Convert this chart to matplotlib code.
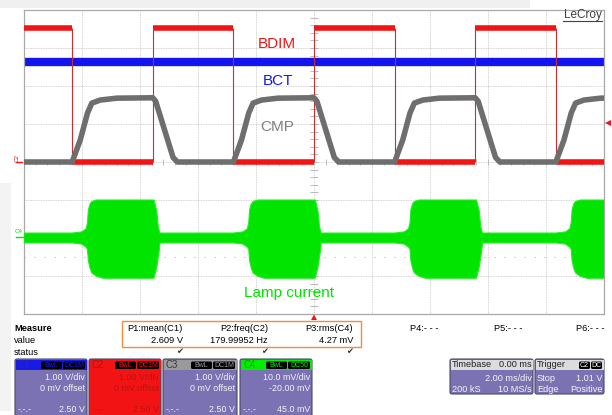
import numpy as np
import matplotlib.pyplot as plt
from matplotlib.patches import FancyBboxPatch, Rectangle, Polygon

plt.rcParams['font.family'] = ['Liberation Sans', 'DejaVu Sans']

# time in ms (2 ms/div, trigger at 0), vertical in divisions
bdim_edges = [-10, -8.34, -5.56, -2.78, 0.0, 2.78, 5.56, 8.34, 10]
bdim_level = [3.52, 0.0, 3.52, 0.0, 3.52, 0.0, 3.52, 0.0]
bdim_fall = [-8.34, -2.78, 2.78, 8.34]
bdim_rise = [-5.56, 0.0, 5.56, 11.12]

bct_level = 2.64

# CMP shape read around each BDIM edge
cmp_rise_dt = [0.0, 0.28, 0.53, 0.68, 0.97, 1.54]
cmp_rise_v = [0.0, 0.58, 1.29, 1.55, 1.63, 1.68]
cmp_fall_dt = [0.0, 0.10, 0.70, 0.85]
cmp_fall_v = [1.69, 1.60, 0.12, 0.0]

# lamp current envelope (divisions), baseline around -2 div
lamp_base = (-1.87, -2.13)
burst_on_dt = [0.0, 0.33, 0.48, 0.53, 0.56, 0.62, 0.68, 0.85, 1.07]
burst_on_top = [-1.87, -1.84, -1.76, -1.60, -1.26, -1.10, -1.04, -1.00, -1.00]
burst_on_bot = [-2.13, -2.16, -2.24, -2.30, -2.60, -2.80, -2.92, -3.01, -3.06]
burst_off_dt = [0.0, 0.045, 0.14, 0.19, 0.23, 0.25]
burst_off_top = [-1.00, -1.00, -1.30, -1.70, -1.82, -1.87]
burst_off_bot = [-3.06, -3.05, -2.76, -2.50, -2.30, -2.13]

RED = '#f21414'
BLUE = '#1414f0'
GRAY = '#6e6e6e'
GREEN = '#00e400'
PURPLE = '#7a72b2'

fig = plt.figure(figsize=(6.12, 4.15), dpi=100)


def pixel_axes(z):
    a = fig.add_axes([0, 0, 1, 1], zorder=z)
    a.set_xlim(0, 612)
    a.set_ylim(415, 0)
    a.axis('off')
    a.patch.set_alpha(0)
    return a


# background layer in pixel coordinates
bg = pixel_axes(0)
bg.add_patch(Rectangle((0, 0), 530, 8, color='#f0f0f0', lw=0))
bg.add_patch(Rectangle((0, 183), 11, 228, color='#f3f3f3', lw=0))

# scope grid
ax = fig.add_axes([24 / 612, (415 - 314) / 415, 580 / 612, 304 / 415], zorder=1)
ax.set_xlim(-10, 10)
ax.set_ylim(-4, 4)
ax.set_xticks([])
ax.set_yticks([])
for s in ax.spines.values():
    s.set_color('#a8a8a8')
    s.set_linewidth(0.9)
for x in range(-8, 10, 2):
    ax.axvline(x, color='#c4c4c4', lw=0.6, ls=(0, (1, 1)), zorder=0)
for y in range(-3, 4):
    ax.axhline(y, color='#c4c4c4', lw=0.6, ls=(0, (1, 1)), zorder=0)
# centre ticks
ax.vlines(np.arange(-10, 10.01, 0.4), -0.07, 0.07, color='#b0b0b0', lw=0.6, zorder=0)
ax.hlines(np.arange(-4, 4.01, 0.2), -0.14, 0.14, color='#b0b0b0', lw=0.6, zorder=0)
ax.axhline(-2.5, color='#b8b8b8', lw=0.8, ls=(0, (1, 8)), zorder=0)

# BCT
ax.axhline(bct_level, color=BLUE, lw=6, zorder=2)

# BDIM
ax.hlines(bdim_level, bdim_edges[:-1], bdim_edges[1:], color=RED, lw=4, zorder=3)
ax.vlines(bdim_edges[1:-1], 0, 3.52, color='#c83030', lw=0.8, zorder=3)

# CMP
cmp_t, cmp_v = [-10.0], [0.0]
for f, r in zip(bdim_fall, bdim_rise):
    cmp_t += [f + d for d in cmp_rise_dt]
    cmp_v += cmp_rise_v
    cmp_t += [r + d for d in cmp_fall_dt]
    cmp_v += cmp_fall_v
ax.plot(cmp_t, cmp_v, color=GRAY, lw=4, solid_joinstyle='round', zorder=4)

# Lamp current
lt, ltop, lbot = [-10.0], [lamp_base[0]], [lamp_base[1]]
for f, r in zip(bdim_fall, bdim_rise):
    lt += [f + d for d in burst_on_dt]
    ltop += burst_on_top
    lbot += burst_on_bot
    lt += [r + d for d in burst_off_dt]
    ltop += burst_off_top
    lbot += burst_off_bot
ax.fill_between(lt, lbot, ltop, color=GREEN, lw=0.8, edgecolor='#20f020', zorder=4)

# overlay for labels drawn above the traces
ov = pixel_axes(2)
ov.text(277, 44, 'BDIM', color=RED, fontsize=11, ha='center', va='center')
ov.text(278, 81, 'BCT', color=BLUE, fontsize=11, ha='center', va='center')
ov.text(277, 127, 'CMP', color='#808080', fontsize=11, ha='center', va='center')
ov.text(289, 293, 'Lamp current', color=GREEN, fontsize=11, ha='center', va='center')

# LeCroy logo
ov.text(583, 15, 'LeCroy', color='#404040', fontsize=8.5, ha='center', va='center')
ov.plot([563, 602], [21, 21], color='#404040', lw=0.8)

# channel markers / trigger markers
ov.text(17, 158, 'C2', color=RED, fontsize=4.5, rotation=90, ha='center', va='center')
ov.plot([16, 22], [162.5, 162.5], color=RED, lw=1)
ov.text(19, 231, 'C4', color=GREEN, fontsize=4.5, ha='center', va='center')
ov.plot([16, 23], [237, 237], color=GREEN, lw=1)
ov.add_patch(Polygon([[311, 320], [317, 320], [314, 314.5]], color=RED, lw=0))
ov.add_patch(Polygon([[611, 120], [611, 126], [605, 123]], color=RED, lw=0))

# measurement panel
fs = 6.7
ov.text(14, 328, 'Measure', fontsize=fs, fontweight='bold', va='center')
ov.text(14, 340, 'value', fontsize=fs, va='center')
ov.text(14, 352, 'status', fontsize=fs, va='center')
ov.add_patch(Rectangle((122, 321), 239, 26, fill=False, ec='#f28c3c', lw=1))
params = ['P1:mean(C1)', 'P2:freq(C2)', 'P3:rms(C4)', 'P4:- - -', 'P5:- - -', 'P6:- - -']
values = ['2.609 V', '179.99952 Hz', '4.27 mV', '', '', '']
param_right = [183, 268, 353, 438, 522, 604]
for p, v, xr in zip(params, values, param_right):
    ov.text(xr, 328, p, fontsize=fs, ha='right', va='center')
    if v:
        ov.text(xr, 340, v, fontsize=fs, ha='right', va='center')
        ov.text(xr - 3, 352, '\u2714', fontsize=6, ha='center', va='center', color='#303030')

# channel boxes
chan_names = ['C1', 'C2', 'C3', 'C4']
chan_x = [(15, 87), (89, 161), (163, 237), (240, 312)]
chan_head = ['#1a1ae6', RED, '#9a9a9a', '#00ee00']
chan_name_col = ['#2828a8', '#a01818', '#3a3a3a', '#00a000']
chan_body = [PURPLE, RED, PURPLE, PURPLE]
chan_text_col = ['#f4f4f4', '#c01010', '#f4f4f4', '#f4f4f4']
chan_coupling = ['DC1M', 'DC1M', 'DC1M', 'DC50']
chan_scale = ['1.00 V/div', '1.00 V/div', '1.00 V/div', '10.0 mV/div']
chan_offset = ['0 mV offset', '0 mV offset', '0 mV offset', '-20.00 mV']
chan_level = ['2.50 V', '2.50 V', '2.50 V', '45.0 mV']

for i, (x0, x1) in enumerate(chan_x):
    ov.add_patch(FancyBboxPatch((x0, 359), x1 - x0, 70, boxstyle='round,pad=0,rounding_size=2',
                                fc=chan_body[i], ec='#4a4a6a', lw=0.8))
    ov.add_patch(Rectangle((x0 + 0.5, 359.5), x1 - x0 - 1, 10.5, color=chan_head[i], lw=0))
    ov.text(x0 + 3, 364.5, chan_names[i], fontsize=7, color=chan_name_col[i], va='center')
    ov.add_patch(FancyBboxPatch((x1 - 24, 361.5), 22, 7.5, boxstyle='round,pad=0,rounding_size=1.5',
                                fc='black', ec='none'))
    ov.add_patch(FancyBboxPatch((x1 - 46, 361.5), 21, 7.5, boxstyle='round,pad=0,rounding_size=1.5',
                                fc='black', ec='none'))
    ov.text(x1 - 13, 365.3, chan_coupling[i], fontsize=5, color=chan_head[i], ha='center', va='center')
    ov.text(x1 - 35.5, 365.3, 'BwL', fontsize=5, color=chan_head[i], ha='center', va='center')
    tc = chan_text_col[i]
    ov.text(x1 - 2, 377, chan_scale[i], fontsize=6.4, color=tc, ha='right', va='center')
    ov.text(x1 - 2, 388, chan_offset[i], fontsize=6.4, color=tc, ha='right', va='center')
    ov.text(x0 + 3, 409, '-.-.-', fontsize=6.4, color=tc, va='center')
    ov.text(x1 - 2, 409, chan_level[i], fontsize=6.4, color=tc, ha='right', va='center')

# timebase / trigger boxes
for (x0, x1) in [(450, 533), (535, 604)]:
    ov.add_patch(FancyBboxPatch((x0, 359), x1 - x0, 35, boxstyle='round,pad=0,rounding_size=2',
                                fc=PURPLE, ec='#4a4a6a', lw=0.8))
    ov.add_patch(Rectangle((x0 + 0.5, 359.5), x1 - x0 - 1, 10.5, color='#dcdcdc', lw=0))
ov.text(452, 364.5, 'Timebase', fontsize=6.6, color='#202020', va='center')
ov.text(532, 364.5, '0.00 ms', fontsize=6.6, color='#202020', ha='right', va='center')
ov.text(532, 378, '2.00 ms/div', fontsize=6.6, color='#f4f4f4', ha='right', va='center')
ov.text(452, 389, '200 kS', fontsize=6.6, color='#f4f4f4', va='center')
ov.text(532, 389, '10 MS/s', fontsize=6.6, color='#f4f4f4', ha='right', va='center')
ov.text(537, 364.5, 'Trigger', fontsize=6.6, color='#202020', va='center')
for bx, lab in [(579, 'C2'), (591, 'DC')]:
    ov.add_patch(FancyBboxPatch((bx, 361.5), 11, 7.5, boxstyle='round,pad=0,rounding_size=1.5',
                                fc='black', ec='none'))
    ov.text(bx + 5.5, 365.3, lab, fontsize=5, color='white', ha='center', va='center')
ov.text(537, 378, 'Stop', fontsize=6.6, color='#f4f4f4', va='center')
ov.text(603, 378, '1.01 V', fontsize=6.6, color='#f4f4f4', ha='right', va='center')
ov.text(537, 389, 'Edge', fontsize=6.6, color='#f4f4f4', va='center')
ov.text(603, 389, 'Positive', fontsize=6.6, color='#f4f4f4', ha='right', va='center')

fig.savefig('out.png', dpi=100)
